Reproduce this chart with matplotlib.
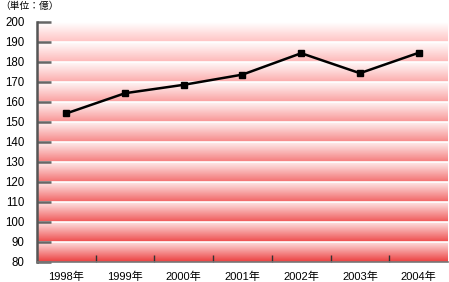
import numpy as np
import matplotlib as mpl
import matplotlib.pyplot as plt

years = ["1998年", "1999年", "2000年", "2001年", "2002年", "2003年", "2004年"]
values = [154.3, 164.4, 168.6, 173.7, 184.4, 174.4, 184.6]
y_ticks = list(range(80, 201, 10))
unit_label = "（単位：億）"

plt.rcParams['font.family'] = ['Liberation Sans', 'Noto Sans CJK JP']

fig = plt.figure(figsize=(4.49, 2.82), dpi=100)
ax = fig.add_axes([37 / 449, 1 - 262 / 282, 411 / 449, 240 / 282])

x = np.arange(len(years))
ax.set_xlim(-0.5, len(years) - 0.5)
ax.set_ylim(80, 200)

# banded gradient background, darker towards the bottom
top_light = np.array([255, 255, 255]) / 255
top_dark = np.array([255, 196, 196]) / 255
bot_light = np.array([253, 220, 220]) / 255
bot_dark = np.array([236, 64, 64]) / 255
n_bands = len(y_ticks) - 1
rows = 40
for i in range(n_bands):
    lo, hi = y_ticks[i], y_ticks[i + 1]
    t = i / (n_bands - 1)  # 0 bottom band, 1 top band
    c_top = bot_light * (1 - t) + top_light * t
    c_bot = bot_dark * (1 - t) + top_dark * t
    s = np.linspace(0, 1, rows)[:, None]
    grad = c_top[None, :] * (1 - s) + c_bot[None, :] * s
    img = grad[:, None, :]
    ax.imshow(img, extent=(-0.5, len(years) - 0.5, lo, hi), origin="upper",
              aspect="auto", interpolation="bilinear", zorder=0)
for yv in y_ticks[1:-1]:
    ax.axhline(yv, color="white", lw=1.2, zorder=1)

ax.plot(x, values, "s-", color="black", lw=1.8, ms=5, zorder=3)

ax.set_yticks(y_ticks)
ax.set_xticks(x)
ax.set_xticklabels(years)
ax.set_xticks(np.arange(0.5, len(years) - 1, 1), minor=True)
ax.tick_params(axis="y", direction="in", length=10, width=1.8, color="#666666",
               labelsize=8.3, pad=9)
ax.tick_params(axis="x", which="major", length=0, labelsize=8, pad=7)
ax.tick_params(axis="x", which="minor", direction="in", length=5, width=1,
               color="#333333")

for side in ["top", "right"]:
    ax.spines[side].set_visible(False)
ax.spines["left"].set_color("#555555")
ax.spines["left"].set_linewidth(1.8)
ax.spines["bottom"].set_color("#777777")
ax.spines["bottom"].set_linewidth(1.2)

fig.text(0.0, 1 - 6 / 282, unit_label, fontsize=7, va="center", ha="left")

fig.savefig("out.png", dpi=100)
